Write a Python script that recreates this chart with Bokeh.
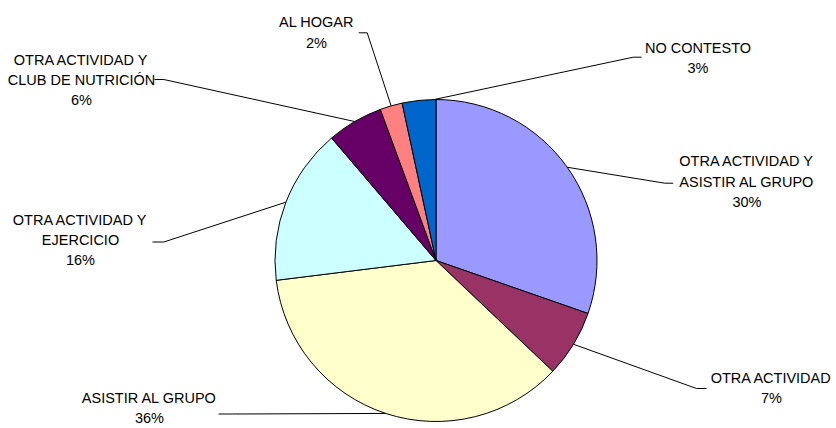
import math
from bokeh.plotting import figure
from bokeh.models import Range1d, ColumnDataSource
from bokeh.core.properties import value
from bokeh.embed import file_html
from bokeh.resources import INLINE

# ---- data ----
categories = [
    "OTRA ACTIVIDAD Y ASISTIR AL GRUPO",
    "OTRA ACTIVIDAD",
    "ASISTIR AL GRUPO",
    "OTRA ACTIVIDAD Y EJERCICIO",
    "OTRA ACTIVIDAD Y CLUB DE NUTRICIÓN",
    "AL HOGAR",
    "NO CONTESTO",
]
label_lines = [
    ["OTRA ACTIVIDAD Y", "ASISTIR AL GRUPO"],
    ["OTRA ACTIVIDAD"],
    ["ASISTIR AL GRUPO"],
    ["OTRA ACTIVIDAD Y", "EJERCICIO"],
    ["OTRA ACTIVIDAD Y", "CLUB DE NUTRICIÓN"],
    ["AL HOGAR"],
    ["NO CONTESTO"],
]
counts = [27, 6, 32, 14, 5, 2, 3]
colors = ["#9999FF", "#993366", "#FFFFCC", "#CCFFFF", "#660066", "#FF8080", "#0066CC"]

# ---- layout (picture pixel coordinates) ----
W, H = 836, 428
OX, OY = 0, 0
CX, CY, R = 435.5, 260.0, 161
label_pos = [(746.5, 160.7), (771, 377.3), (149, 397.5), (80, 219.0),
             (81, 59.0), (316, 21.7), (697.5, 47.0)]
line_step = 20.4
leader_elbow = [(664.3, 182.7), (696, 388), (232, 413.5), (163.3, 241.5),
                (163.3, 79), (366.7, 32.3), (632.7, 56.7)]
leader_end = [(672.7, 182.7), (706, 388), (218, 413.5), (152, 241.5),
              (154, 79), (358.3, 32.3), (641, 56.7)]
anchor_frac = [0.5, 0.5, 0.5, 0.5, 0.5, 0.5, 0.95]


def dy(iy):
    return (OY + H) - iy


p = figure(width=W, height=H, output_backend="svg", toolbar_location=None,
           x_range=Range1d(OX, OX + W), y_range=Range1d(0, H),
           min_border=0, outline_line_color=None, background_fill_color="white")
p.axis.visible = False
p.grid.visible = False

total = sum(counts)
cum = 0
starts, ends = [], []
for c in counts:
    starts.append(cum / total)
    cum += c
    ends.append(cum / total)

src = ColumnDataSource(dict(
    start=[math.pi / 2 - 2 * math.pi * e for e in ends],
    end=[math.pi / 2 - 2 * math.pi * s for s in starts],
    color=colors,
))
p.wedge(x=CX, y=dy(CY), radius=R, radius_units="screen",
        start_angle="start", end_angle="end", direction="anticlock",
        fill_color="color", line_color="black", line_width=1, source=src)

# leader lines
xs, ys = [], []
for i in range(len(counts)):
    f = starts[i] + anchor_frac[i] * (ends[i] - starts[i])
    a = 2 * math.pi * f
    sx = CX + R * math.sin(a)
    sy = CY - R * math.cos(a)
    ex, ey = leader_elbow[i]
    tx, ty = leader_end[i]
    xs.append([sx, ex, tx])
    ys.append([dy(sy), dy(ey), dy(ty)])
p.multi_line(xs=xs, ys=ys, line_color="black", line_width=1)

# labels
tx_, ty_, tt = [], [], []
for i, lines in enumerate(label_lines):
    pct = f"{round(100 * counts[i] / total)}%"
    allines = lines + [pct]
    lx, ly = label_pos[i]
    for j, s in enumerate(allines):
        tx_.append(lx)
        ty_.append(dy(ly + j * line_step))
        tt.append(s)
p.text(x=tx_, y=ty_, text=tt, text_align="center", text_baseline="middle",
       text_font=value("Liberation Sans"), text_font_size="14.5px", text_color="black")

open("out.html", "w").write(file_html(p, INLINE))
